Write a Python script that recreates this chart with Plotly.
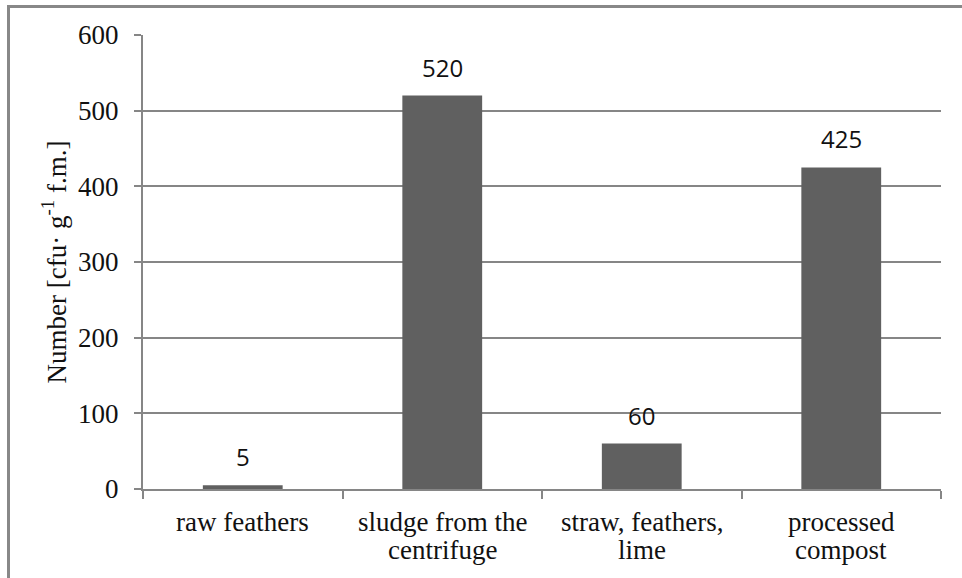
import plotly.graph_objects as go

categories = ["raw feathers", "sludge from the<br>centrifuge", "straw, feathers,<br>lime", "processed<br>compost"]
values = [5, 520, 60, 425]
y_ticks = [0, 100, 200, 300, 400, 500, 600]

L, R, T, B = 143, 21, 35, 89
W, H = 962, 578
pw, ph = W - L - R, H - T - B

fig = go.Figure()
fig.add_trace(go.Bar(
    x=categories, y=values, marker=dict(color="#606060", line=dict(width=0)),
    width=0.4, showlegend=False, hoverinfo="skip"))

for c, v in zip(categories, values):
    fig.add_annotation(x=c, y=v, text=str(v), showarrow=False, yanchor="bottom",
                       yshift=10, font=dict(family="Open Sans", size=24, color="#111"))

serif = dict(family="Liberation Serif", size=27, color="#111")

# category labels, one annotation per line to keep the tight line spacing
for c in categories:
    for i, line in enumerate(c.split("<br>")):
        fig.add_annotation(x=c, xref="x", y=0, yref="paper", text=line, showarrow=False,
                           yanchor="middle", yshift=-33 - 28 * i, font=serif)

fig.update_layout(
    width=W, height=H,
    margin=dict(l=L, r=R, t=T, b=B),
    paper_bgcolor="white", plot_bgcolor="white",
    font=serif,
    bargap=0.6,
    xaxis=dict(
        type="category", showgrid=False, showline=True, linecolor="#868686", linewidth=2,
        ticks="outside", tickson="boundaries", ticklen=8, tickcolor="#868686", tickwidth=2,
        showticklabels=False,
    ),
    yaxis=dict(
        range=[0, 600], tickvals=y_ticks, showgrid=True, gridcolor="#868686", gridwidth=2,
        showline=True, linecolor="#868686", linewidth=2, zeroline=False,
        ticks="outside", ticklen=7, tickcolor="#868686", tickwidth=2,
        tickfont=serif, ticklabelstandoff=10,
        title=dict(text="Number [cfu· g<sup>-1</sup> f.m.]", standoff=4, font=serif),
    ),
)

# outer chart frame
fig.add_shape(type="rect", xref="paper", yref="paper",
              x0=(8.5 - L) / pw, x1=(W + 20 - L) / pw,
              y0=(H - B - (H + 20)) / ph, y1=(H - B - 6.5) / ph,
              line=dict(color="#888888", width=3), layer="below")

fig.write_html("out.html", config={"displayModeBar": False},
               post_script="document.body.style.margin='0';")
